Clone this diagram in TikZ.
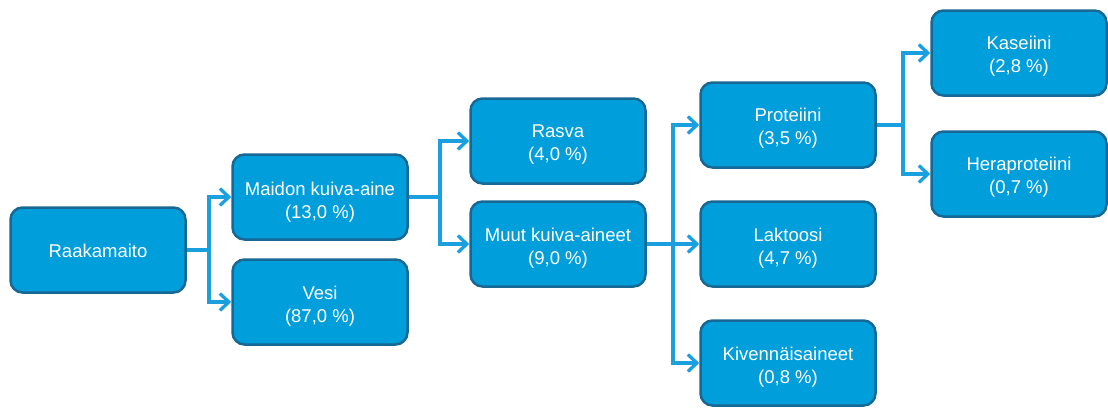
\documentclass[tikz,border=0pt]{standalone}
\usepackage{fontspec}
\setmainfont{Liberation Sans}
\usetikzlibrary{arrows.meta}
\definecolor{boxfill}{RGB}{0,158,219}
\definecolor{boxline}{RGB}{24,104,150}
\definecolor{connc}{RGB}{26,160,222}
\begin{document}
\begin{tikzpicture}[x=1pt,y=-1pt,
  box/.style={draw=boxline, line width=2.5pt, fill=boxfill, rounded corners=12pt,
    minimum width=175pt, minimum height=85pt, inner sep=0pt},
  txt/.style={text=white, align=center, font=\fontsize{18.5}{23}\selectfont, inner sep=0pt},
  conn/.style={draw=connc, line width=3.3pt, line join=miter},
  arr/.style={conn, -{Straight Barb[length=9pt,width=17pt,line width=3.3pt]}}]
\useasboundingbox (0,0) rectangle (1108,407);
\node[box] (r)  at (98,250)  {};
\node[box] (m)  at (320,197) {};
\node[box] (v)  at (320,302) {};
\node[box] (ra) at (558,141) {};
\node[box] (mu) at (558,244) {};
\node[box] (p)  at (788,125) {};
\node[box] (l)  at (788,244) {};
\node[box] (k)  at (788,363) {};
\node[box] (ka) at (1019,53) {};
\node[box] (h)  at (1019,174) {};
\node[txt] (rt)  at ([yshift=-1pt]r.center)  {Raakamaito};
\node[txt] (mt)  at ([yshift=-5pt]m.center)  {Maidon kuiva-aine\\(13,0 \%)};
\node[txt] (vt)  at ([yshift=-4pt]v.center)  {Vesi\\(87,0 \%)};
\node[txt] (rat) at ([yshift=-4pt]ra.center) {Rasva\\(4,0 \%)};
\node[txt] (mut) at ([yshift=-4pt]mu.center) {Muut kuiva-aineet\\(9,0 \%)};
\node[txt] (pt)  at ([yshift=-3pt]p.center)  {Proteiini\\(3,5 \%)};
\node[txt] (lt)  at ([yshift=-4pt]l.center)  {Laktoosi\\(4,7 \%)};
\node[txt] (kt)  at ([yshift=-4pt]k.center)  {Kivennäisaineet\\(0,8 \%)};
\node[txt] (kat) at ([yshift=-3pt]ka.center) {Kaseiini\\(2,8 \%)};
\node[txt] (ht)  at ([yshift=-3pt]h.center)  {Heraproteiini\\(0,7 \%)};
\coordinate (j1) at (209,250);
\coordinate (j2) at (440,197);
\coordinate (j3) at (673,244);
\coordinate (j4) at (903,125);
\draw[conn] (r.east) -- (j1);
\draw[arr] (j1) |- (m.west);
\draw[arr] (j1) |- (v.west);
\draw[conn] (m.east) -- (j2);
\draw[arr] (j2) |- (ra.west);
\draw[arr] (j2) |- (mu.west);
\draw[conn] (mu.east) -- (j3);
\draw[arr] (j3) |- (p.west);
\draw[arr] (j3) -- (l.west);
\draw[arr] (j3) |- (k.west);
\draw[conn] (p.east) -- (j4);
\draw[arr] (j4) |- (ka.west);
\draw[arr] (j4) |- (h.west);
\end{tikzpicture}
\end{document}
